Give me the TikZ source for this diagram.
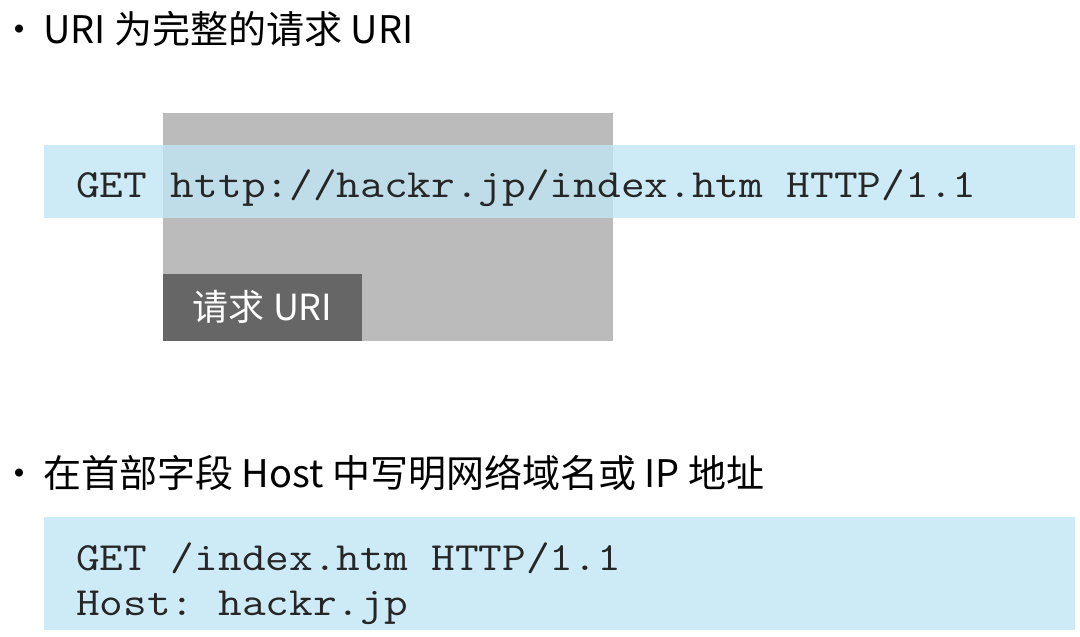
\documentclass[tikz,border=0pt]{standalone}
\usepackage{fontspec}
\setmainfont{Noto Sans CJK SC}
\setmonofont{Latin Modern Mono}[FakeStretch=1.15]
\definecolor{reqblue}{RGB}{193,230,245}
\definecolor{urigray}{RGB}{187,187,187}
\definecolor{labelgray}{RGB}{102,102,102}
\begin{document}
\begin{tikzpicture}[x=1pt,y=-1pt,
    heading/.style={anchor=base west,inner sep=0pt,font=\fontsize{38}{40}\selectfont},
    code/.style={anchor=base west,inner sep=0pt,text=black!85,font=\fontsize{40}{45}\selectfont\ttfamily},
    band/.style={fill=reqblue,fill opacity=0.8}]
    \useasboundingbox (0,0) rectangle (1080,637);
    % full request URI
    \node[heading] (headA) at (0,43) {・\hspace{5pt}URI 为完整的请求 URI};
    \fill[urigray] (163,113) rectangle (613,341);
    \fill[band] (44,145) rectangle (1075,218);
    \node[code] (fullreq) at (76,197) {GET http://hackr.jp/index.htm HTTP/1.1};
    \node[fill=labelgray,text=white,minimum width=199pt,minimum height=67pt,inner sep=0pt,
        anchor=south west,font=\fontsize{36}{40}\selectfont] (urilabel) at (163,341) {请求 URI};
    % Host header
    \node[heading] (headB) at (0,487) {・\hspace{5pt}在首部字段 Host 中写明网络域名或 IP 地址};
    \fill[band] (44,517) rectangle (1075,630);
    \node[code] (getline) at (76,570) {GET /index.htm HTTP/1.1};
    \node[code] (hostline) at (76,615) {Host: hackr.jp};
\end{tikzpicture}
\end{document}
